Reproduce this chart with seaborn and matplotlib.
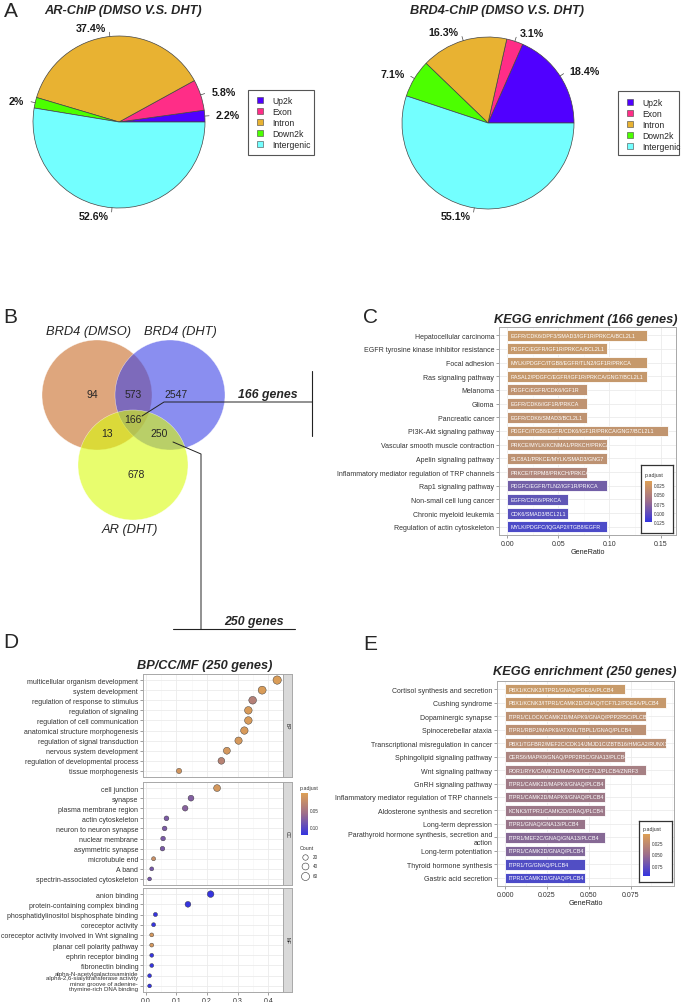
import numpy as np
import pandas as pd
import matplotlib
matplotlib.use("Agg")
import matplotlib.pyplot as plt
import seaborn as sns
from matplotlib.patches import Circle, Rectangle
from matplotlib.colors import LinearSegmentedColormap, Normalize
from matplotlib.cm import ScalarMappable
from matplotlib.ticker import MultipleLocator

# ---------------- data ----------------
pie_cats = ["Up2k", "Exon", "Intron", "Down2k", "Intergenic"]
pie_colors = ["#5000ff", "#ff2d87", "#e8b232", "#4cff00", "#73ffff"]
ar_pct = [2.2, 5.8, 37.4, 2.0, 52.6]
brd4_pct = [18.4, 3.1, 16.3, 7.1, 55.1]

# venn regions: dmso only, dmso&dht, dht only, all three, dmso&ar, dht&ar, ar only
venn_counts = [94, 573, 2547, 166, 13, 250, 678]
venn_sets = ["BRD4 (DMSO)", "BRD4 (DHT)", "AR (DHT)"]

kegg166_terms = ["Hepatocellular carcinoma", "EGFR tyrosine kinase inhibitor resistance",
                 "Focal adhesion", "Ras signaling pathway", "Melanoma", "Glioma",
                 "Pancreatic cancer", "PI3K-Akt signaling pathway",
                 "Vascular smooth muscle contraction", "Apelin signaling pathway",
                 "Inflammatory mediator regulation of TRP channels", "Rap1 signaling pathway",
                 "Non-small cell lung cancer", "Chronic myeloid leukemia",
                 "Regulation of actin cytoskeleton"]
kegg166_ratio = [0.137, 0.098, 0.137, 0.137, 0.078, 0.078, 0.078, 0.157,
                 0.098, 0.098, 0.078, 0.098, 0.059, 0.059, 0.098]
kegg166_padj = [0.020, 0.021, 0.021, 0.023, 0.030, 0.030, 0.030, 0.027,
                0.031, 0.031, 0.045, 0.095, 0.108, 0.114, 0.123]
kegg166_genes = ["EGFR/CDK6/DPF3/SMAD3/IGF1R/PRKCA/BCL2L1", "PDGFC/EGFR/IGF1R/PRKCA/BCL2L1",
                 "MYLK/PDGFC/ITGB8/EGFR/TLN2/IGF1R/PRKCA", "RASAL2/PDGFC/EGFR/IGF1R/PRKCA/GNG7/BCL2L1",
                 "PDGFC/EGFR/CDK6/IGF1R", "EGFR/CDK6/IGF1R/PRKCA", "EGFR/CDK6/SMAD3/BCL2L1",
                 "PDGFC/ITGB8/EGFR/CDK6/IGF1R/PRKCA/GNG7/BCL2L1", "PRKCE/MYLK/KCNMA1/PRKCH/PRKCA",
                 "SLC8A1/PRKCE/MYLK/SMAD3/GNG7", "PRKCE/TRPM8/PRKCH/PRKCA",
                 "PDGFC/EGFR/TLN2/IGF1R/PRKCA", "EGFR/CDK6/PRKCA", "CDK6/SMAD3/BCL2L1",
                 "MYLK/PDGFC/IQGAP2/ITGB8/EGFR"]

kegg250_terms = ["Cortisol synthesis and secretion", "Cushing syndrome", "Dopaminergic synapse",
                 "Spinocerebellar ataxia", "Transcriptional misregulation in cancer",
                 "Sphingolipid signaling pathway", "Wnt signaling pathway", "GnRH signaling pathway",
                 "Inflammatory mediator regulation of TRP channels", "Aldosterone synthesis and secretion",
                 "Long-term depression", "Parathyroid hormone synthesis, secretion and\naction",
                 "Long-term potentiation", "Thyroid hormone synthesis", "Gastric acid secretion"]
kegg250_ratio = [0.072, 0.096, 0.084, 0.084, 0.096, 0.072, 0.084, 0.060,
                 0.060, 0.060, 0.048, 0.060, 0.048, 0.048, 0.048]
kegg250_padj = [0.010, 0.012, 0.020, 0.021, 0.022, 0.035, 0.040, 0.045,
                0.046, 0.047, 0.050, 0.060, 0.063, 0.092, 0.095]
kegg250_genes = ["PBX1/KCNK3/ITPR1/GNAQ/PDE8A/PLCB4", "PBX1/KCNK3/ITPR1/CAMK2D/GNAQ/TCF7L2/PDE8A/PLCB4",
                 "ITPR1/CLOCK/CAMK2D/MAPK9/GNAQ/PPP2R5C/PLCB4", "ITPR1/RBPJ/MAPK9/ATXN1/TBPL1/GNAQ/PLCB4",
                 "PBX1/TGFBR2/MEF2C/CDK14/JMJD1C/ZBTB16/HMGA2/RUNX1", "CERS6/MAPK9/GNAQ/PPP2R5C/GNA13/PLCB4",
                 "ROR1/RYK/CAMK2D/MAPK9/TCF7L2/PLCB4/ZNRF3", "ITPR1/CAMK2D/MAPK9/GNAQ/PLCB4",
                 "ITPR1/CAMK2D/MAPK9/GNAQ/PLCB4", "KCNK3/ITPR1/CAMK2D/GNAQ/PLCB4",
                 "ITPR1/GNAQ/GNA13/PLCB4", "ITPR1/MEF2C/GNAQ/GNA13/PLCB4",
                 "ITPR1/CAMK2D/GNAQ/PLCB4", "ITPR1/TG/GNAQ/PLCB4", "ITPR1/CAMK2D/GNAQ/PLCB4"]

go_terms = ["multicellular organism development", "system development",
            "regulation of response to stimulus", "regulation of signaling",
            "regulation of cell communication", "anatomical structure morphogenesis",
            "regulation of signal transduction", "nervous system development",
            "regulation of developmental process", "tissue morphogenesis",
            "cell junction", "synapse", "plasma membrane region", "actin cytoskeleton",
            "neuron to neuron synapse", "nuclear membrane", "asymmetric synapse",
            "microtubule end", "A band", "spectrin-associated cytoskeleton",
            "anion binding", "protein-containing complex binding",
            "phosphatidylinositol bisphosphate binding", "coreceptor activity",
            "coreceptor activity involved in Wnt signaling", "planar cell polarity pathway",
            "ephrin receptor binding", "fibronectin binding",
            "alpha-N-acetylgalactosaminide\nalpha-2,6-sialyltransferase activity",
            "minor groove of adenine-\nthymine-rich DNA binding"]
go_ont = ["BP", "BP", "BP", "BP", "BP", "BP", "BP", "BP", "BP", "BP",
          "CC", "CC", "CC", "CC", "CC", "CC", "CC", "CC", "CC", "CC",
          "MF", "MF", "MF", "MF", "MF", "MF", "MF", "MF", "MF", "MF"]
go_ratio = [0.429, 0.380, 0.349, 0.335, 0.335, 0.322, 0.303, 0.265, 0.247, 0.109,
            0.233, 0.148, 0.129, 0.068, 0.062, 0.057, 0.055, 0.026, 0.020, 0.013,
            0.212, 0.138, 0.032, 0.026, 0.020, 0.020, 0.020, 0.020, 0.013, 0.013]
go_count = [66, 59, 54, 52, 52, 50, 47, 41, 38, 17,
            40, 25, 22, 12, 11, 10, 10, 4, 3, 2,
            36, 24, 5, 4, 3, 3, 3, 3, 2, 2]
go_padj = [0.004, 0.005, 0.040, 0.006, 0.006, 0.007, 0.009, 0.010, 0.036, 0.012,
           0.010, 0.078, 0.075, 0.082, 0.082, 0.083, 0.083, 0.020, 0.085, 0.085,
           0.124, 0.124, 0.124, 0.124, 0.010, 0.010, 0.124, 0.124, 0.124, 0.124]

# ---------------- setup ----------------
sns.set_theme(style="whitegrid")
plt.rcParams['font.family'] = ['Liberation Sans', 'DejaVu Sans']

W, H = 685, 1003
fig = plt.figure(figsize=(W / 100, H / 100), dpi=100)
cmap = LinearSegmentedColormap.from_list("padj", ["#dea055", "#9c6d8c", "#3434e0"])


def px_axes(l, t, r, b):
    return fig.add_axes([l / W, 1 - b / H, (r - l) / W, (b - t) / H])


def ftext(x, y, s, **kw):
    fig.text(x / W, 1 - y / H, s, **kw)


overlay = px_axes(0, 0, W, H)
overlay.set_xlim(0, W)
overlay.set_ylim(H, 0)
overlay.axis('off')

# panel letters
for letter, (lx, ly) in zip("ABCDE", [(4, 11), (3, 317), (363, 317), (3, 642), (363, 644)]):
    overlay.text(lx, ly, letter, fontsize=15, ha='left', va='center')


# ---------------- A: pies ----------------
def draw_pie(cx, cy, r, values, title, tx, box, sq_x, txt_x, row0):
    ax = px_axes(cx - r, cy - r, cx + r, cy + r)
    ax.pie(values, colors=pie_colors, startangle=0, counterclock=True, radius=1,
           wedgeprops=dict(edgecolor='#444444', linewidth=0.5))
    ax.set_xlim(-1, 1)
    ax.set_ylim(-1, 1)
    vals = np.array(values)
    mids = np.deg2rad((np.cumsum(vals) - vals / 2) / 100 * 360)
    for ang, v in zip(mids, values):
        c, s = np.cos(ang), np.sin(ang)
        ax.plot([c, 1.05 * c], [s, 1.05 * s], color='#444444', lw=0.5, clip_on=False)
        ax.text(1.1 * c + (0.03 if c >= 0 else -0.03), 1.1 * s, f"{v:g}%",
                ha='left' if c >= 0 else 'right', va='center', fontsize=7.7,
                fontweight='bold', color='#1a1a1a', clip_on=False)
    overlay.text(tx, 11, title, ha='center', va='center', fontsize=9.2,
                 fontweight='bold', style='italic')
    x0, y0, x1, y1 = box
    overlay.add_patch(Rectangle((x0, y0), x1 - x0, y1 - y0, fill=False,
                                edgecolor='#555555', lw=0.8))
    for i, (cat, col) in enumerate(zip(pie_cats, pie_colors)):
        yy = row0 + i * 11
        overlay.add_patch(Rectangle((sq_x, yy - 3), 6, 6, facecolor=col,
                                    edgecolor='#444444', lw=0.4))
        overlay.text(txt_x, yy, cat, fontsize=6.2, ha='left', va='center')


draw_pie(119, 123, 86, ar_pct, "AR-ChIP (DMSO V.S. DHT)", 123, (248, 91, 314, 156), 257, 272, 101)
draw_pie(488, 124, 86, brd4_pct, "BRD4-ChIP (DMSO V.S. DHT)", 497, (618, 92, 679, 156), 627, 642, 103)

# ---------------- B: venn ----------------
for (cx, cy), col in zip([(97, 396), (170, 396), (133, 466)], ["#c86b26", "#3c43e6", "#dafc0d"]):
    overlay.add_patch(Circle((cx, cy), 55, facecolor=col, alpha=0.6, edgecolor='white', lw=0.4))
for name, (nx, ny) in zip(venn_sets, [(89, 332), (180, 332), (130, 530)]):
    overlay.text(nx, ny, name, fontsize=9.3, style='italic', ha='center', va='center')
venn_pos = [(92, 395), (133, 395), (176, 395), (133, 420), (107, 434), (159, 434), (136, 475)]
for n, (nx, ny) in zip(venn_counts, venn_pos):
    overlay.text(nx, ny, str(n), fontsize=7.5, ha='center', va='center')

overlay.plot([142, 164, 312], [417, 403, 403], color='#222222', lw=0.7)
overlay.plot([312, 312], [372, 437], color='#222222', lw=0.8)
overlay.text(268, 395, "166 genes", fontsize=8.8, fontweight='bold', style='italic',
             ha='center', va='center')
overlay.plot([173, 201, 201], [443, 455, 630], color='#222222', lw=0.7)
overlay.plot([173, 295], [630, 630], color='#222222', lw=0.8)
overlay.text(254, 622, "250 genes", fontsize=8.8, fontweight='bold', style='italic',
             ha='center', va='center')


# ---------------- helpers for ggplot-like panels ----------------
def style_panel(ax, minor):
    ax.set_facecolor('white')
    for sp in ax.spines.values():
        sp.set_visible(True)
        sp.set_color('#a8a8a8')
        sp.set_linewidth(0.7)
    ax.xaxis.set_minor_locator(MultipleLocator(minor))
    ax.grid(True, which='major', color='#ebebeb', lw=0.6)
    ax.grid(True, which='minor', axis='x', color='#f5f5f5', lw=0.4)
    ax.tick_params(axis='both', which='major', labelsize=5, labelcolor='#333333',
                   color='#555555', length=2, width=0.4, pad=1.5, bottom=True, left=True)
    ax.tick_params(which='minor', length=0)
    ax.set_axisbelow(True)
    ax.set_ylabel('')


def colorbar_legend(box, cax_rect, norm, ticks, fmt, title_xy, framed=True):
    if framed:
        bx = px_axes(*box)
        bx.set_xticks([])
        bx.set_yticks([])
        bx.grid(False)
        bx.set_facecolor('white')
        for sp in bx.spines.values():
            sp.set_color('#333333')
            sp.set_linewidth(0.9)
        bx.set_zorder(5)
    cax = px_axes(*cax_rect)
    cax.set_zorder(6)
    cb = fig.colorbar(ScalarMappable(norm=norm, cmap=cmap), cax=cax)
    cb.outline.set_visible(False)
    cax.invert_yaxis()
    cb.set_ticks(ticks)
    cb.set_ticklabels([fmt.format(t) for t in ticks])
    cax.tick_params(labelsize=3.3, labelcolor='#333333', length=1.5, width=0.4,
                    color='white', direction='in', pad=1.5)
    ftext(title_xy[0], title_xy[1], "p.adjust", fontsize=3.8, color='#333333',
          ha='left', va='center', zorder=10)


def kegg_bar(rect, terms, ratio, padj, genes, norm, xticks, xfmt, xlim, minor, title, title_xy):
    ax = px_axes(*rect)
    df = pd.DataFrame({'term': terms, 'ratio': ratio})
    pal = {t: cmap(norm(p)) for t, p in zip(terms, padj)}
    sns.barplot(data=df, x='ratio', y='term', hue='term', palette=pal, orient='h',
                width=0.8, edgecolor='white', linewidth=0.6, legend=False, ax=ax, zorder=2)
    for i, g in enumerate(genes):
        ax.text(xlim[1] * 0.02, i, g, color='white', fontsize=3.9, ha='left', va='center',
                clip_on=True, zorder=3)
    style_panel(ax, minor)
    ax.set_xlim(*xlim)
    ax.set_ylim(len(terms) - 1 + 0.6, -0.6)
    ax.set_xticks(xticks)
    ax.set_xticklabels([xfmt.format(t) for t in xticks])
    ax.set_xlabel("GeneRatio", fontsize=5.2, color='#222222', labelpad=1)
    overlay.text(title_xy[0], title_xy[1], title, fontsize=9.2, fontweight='bold',
                 style='italic', ha='center', va='center')
    return ax


# ---------------- C ----------------
norm_c = Normalize(0.014, 0.125)
kegg_bar((499, 328, 676, 536), kegg166_terms, kegg166_ratio, kegg166_padj, kegg166_genes,
         norm_c, [0, 0.05, 0.10, 0.15], "{:.2f}", (-0.008, 0.165), 0.025,
         "KEGG enrichment (166 genes)", (586, 320))
colorbar_legend((641, 466, 673, 534), (645, 482, 652, 523), norm_c,
                [0.025, 0.05, 0.075, 0.10, 0.125], "{:.3f}", (645, 476))

# ---------------- E ----------------
norm_e = Normalize(0.0054, 0.097)
kegg_bar((497, 682, 674, 887), kegg250_terms, kegg250_ratio, kegg250_padj, kegg250_genes,
         norm_e, [0, 0.025, 0.05, 0.075], "{:.3f}", (-0.0048, 0.101), 0.0125,
         "KEGG enrichment (250 genes)", (585, 672))
colorbar_legend((639, 822, 672, 883), (643, 835, 650, 877), norm_e,
                [0.025, 0.05, 0.075], "{:.3f}", (643, 829))

# ---------------- D ----------------
norm_d = Normalize(0.0, 0.125)
go_df = pd.DataFrame({'term': go_terms, 'ont': go_ont, 'ratio': go_ratio,
                      'count': go_count, 'padj': go_padj})
facet_rows = {'BP': (675, 778), 'CC': (783, 886), 'MF': (889, 993)}
for k, (ont, (t, b)) in enumerate(facet_rows.items()):
    ax = px_axes(143, t, 283, b)
    sub = go_df[go_df['ont'] == ont].reset_index(drop=True)
    sub['pos'] = sub.index
    sns.scatterplot(data=sub, x='ratio', y='pos', hue='padj', palette=cmap, hue_norm=norm_d,
                    size='count', sizes=(7.5, 36), size_norm=(2, 66), edgecolor='#333333',
                    linewidth=0.3, legend=False, ax=ax, zorder=3)
    style_panel(ax, 0.05)
    ax.set_xlim(-0.0085, 0.448)
    ax.set_ylim(len(sub) - 1 + 0.6, -0.6)
    ax.set_yticks(sub['pos'])
    ax.set_yticklabels(sub['term'], linespacing=0.95)
    # two-line labels at the bottom of MF: a bit tighter so they do not collide
    for lab in ax.get_yticklabels():
        if "\n" in lab.get_text():
            lab.set_fontsize(4.4)
            lab.set_linespacing(0.8)
    ax.set_xticks([0, 0.1, 0.2, 0.3, 0.4])
    ax.set_xlabel('')
    if ont != 'MF':
        ax.tick_params(axis='x', labelbottom=False, length=0)
    else:
        ax.set_xticklabels(["0.0", "0.1", "0.2", "0.3", "0.4"])
    st = px_axes(283, t, 292, b)
    st.set_facecolor('#d9d9d9')
    st.set_xticks([])
    st.set_yticks([])
    st.grid(False)
    for sp in st.spines.values():
        sp.set_color('#a8a8a8')
        sp.set_linewidth(0.7)
    st.text(0.5, 0.5, ont, rotation=-90, fontsize=3.5, color='#1a1a1a',
            ha='center', va='center', transform=st.transAxes)

overlay.text(205, 666, "BP/CC/MF (250 genes)", fontsize=9.2, fontweight='bold',
             style='italic', ha='center', va='center')
colorbar_legend(None, (301, 794, 308, 836), norm_d, [0.05, 0.10], "{:.2f}", (300, 789),
                framed=False)
ftext(300, 849, "Count", fontsize=3.8, color='#333333', ha='left', va='center')
for cnt, yy in zip([20, 40, 60], [858, 867, 877]):
    s = 7.5 + (cnt - 2) / (66 - 2) * (36 - 7.5)
    overlay.scatter([305], [yy], s=s, facecolor='white', edgecolor='#333333', lw=0.4)
    overlay.text(313, yy, str(cnt), fontsize=3.3, color='#333333', ha='left', va='center')

fig.savefig("out.png", dpi=100)
